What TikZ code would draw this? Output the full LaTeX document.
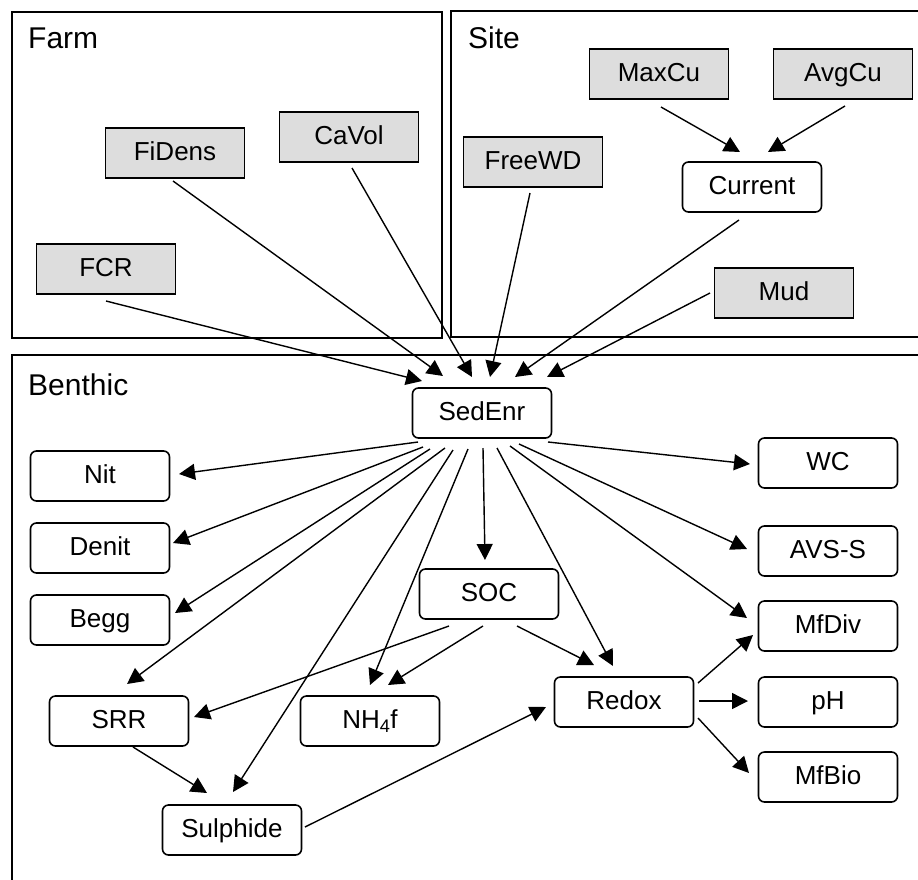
\documentclass[tikz,border=0pt]{standalone}
\usepackage{fontspec}
\setmainfont{Liberation Sans}
\usetikzlibrary{arrows.meta,calc}
\definecolor{boxgray}{RGB}{221,221,221}
\begin{document}
\begin{tikzpicture}[x=1pt,y=-1pt,
  every node/.style={font=\fontsize{26}{30}\selectfont, inner sep=0pt},
  inbox/.style={draw, line width=1.6pt, fill=boxgray, minimum width=139pt, minimum height=50pt, text height=15pt, text depth=0pt},
  varbox/.style={draw, line width=1.6pt, rounded corners=6pt, fill=white, minimum width=139pt, minimum height=50pt, text height=15pt, text depth=0pt},
  grouplabel/.style={font=\fontsize{30}{34}\selectfont, anchor=base west},
  container/.style={line width=1.8pt},
  arr/.style={line width=1.4pt, -{Triangle[length=16pt,width=16pt]}}]
\useasboundingbox (0,0) rectangle (918,879);
% containers
\draw[container] (12,12) rectangle (442,338);
\draw[container] (930,11) -- (451,11) -- (451,337) -- (930,337);
\draw[container] (930,355) -- (12,355) -- (12,890);
\node[grouplabel] (farmlbl) at (28,48) {Farm};
\node[grouplabel] (sitelbl) at (468,48) {Site};
\node[grouplabel] (benlbl) at (28,395) {Benthic};
% input nodes
\node[inbox] (FiDens) at (175,153) {FiDens};
\node[inbox] (CaVol) at (349,137) {CaVol};
\node[inbox] (FCR) at (106,269) {FCR};
\node[inbox] (MaxCu) at (659,74) {MaxCu};
\node[inbox] (AvgCu) at (843,74) {AvgCu};
\node[inbox] (FreeWD) at (533,162) {FreeWD};
\node[inbox] (Mud) at (784,293) {Mud};
% variable nodes
\node[varbox] (Current) at (752,187) {Current};
\node[varbox] (SedEnr) at (482,413) {SedEnr};
\node[varbox] (Nit) at (100,476) {Nit};
\node[varbox] (Denit) at (100,548) {Denit};
\node[varbox] (Begg) at (100,620) {Begg};
\node[varbox] (SOC) at (489,594) {SOC};
\node[varbox] (WC) at (828,463) {WC};
\node[varbox] (AVSS) at (828,551) {AVS-S};
\node[varbox] (MfDiv) at (828,626) {MfDiv};
\node[varbox] (pH) at (828,702) {pH};
\node[varbox] (MfBio) at (828,777) {MfBio};
\node[varbox] (Redox) at (624,702) {Redox};
\node[varbox] (SRR) at (119,721) {SRR};
\node[varbox] (NH4f) at (370,721) {NH\textsubscript{4}f};
\node[varbox] (Sulphide) at (232,830) {Sulphide};
% connectors into SedEnr
\draw[arr] ($(FCR)+(0,32)$) -- ($(SedEnr)+(-60,-32)$);
\draw[arr] ($(FiDens)+(-2,28)$) -- ($(SedEnr)+(-39,-37)$);
\draw[arr] ($(CaVol)+(3,31)$) -- ($(SedEnr)+(-10,-36)$);
\draw[arr] ($(FreeWD)+(-3,31)$) -- ($(SedEnr)+(8,-36)$);
\draw[arr] ($(Current)+(-13,33)$) -- ($(SedEnr)+(33,-36)$);
\draw[arr] ($(Mud)+(-74,0)$) -- ($(SedEnr)+(65,-36)$);
% into Current
\draw[arr] ($(MaxCu)+(2,33)$) -- ($(Current)+(-12,-35)$);
\draw[arr] ($(AvgCu)+(2,32)$) -- ($(Current)+(16,-35)$);
% out of SedEnr
\draw[arr] ($(SedEnr)+(-64,29)$) -- ($(Nit)+(79,-2)$);
\draw[arr] ($(SedEnr)+(-59,34)$) -- ($(Denit)+(73,-5)$);
\draw[arr] ($(SedEnr)+(-52,36)$) -- ($(Begg)+(75,-7)$);
\draw[arr] ($(SedEnr)+(-37,35)$) -- ($(SRR)+(8,-37)$);
\draw[arr] ($(SedEnr)+(-29,37)$) -- ($(Sulphide)+(1,-38)$);
\draw[arr] ($(SedEnr)+(-14,36)$) -- ($(NH4f)+(0,-36)$);
\draw[arr] ($(SedEnr)+(1,35)$) -- ($(SOC)+(-4,-34)$);
\draw[arr] ($(SedEnr)+(15,35)$) -- ($(Redox)+(-11,-36)$);
\draw[arr] ($(SedEnr)+(28,33)$) -- ($(MfDiv)+(-81,-8)$);
\draw[arr] ($(SedEnr)+(37,31)$) -- ($(AVSS)+(-81,-2)$);
\draw[arr] ($(SedEnr)+(66,29)$) -- ($(WC)+(-78,1)$);
% out of SOC
\draw[arr] ($(SOC)+(-40,32)$) -- ($(SRR)+(75,-4)$);
\draw[arr] ($(SOC)+(-6,32)$) -- ($(NH4f)+(18,-36)$);
\draw[arr] ($(SOC)+(28,32)$) -- ($(Redox)+(-30,-37)$);
% others
\draw[arr] ($(SRR)+(14,26)$) -- ($(Sulphide)+(-25,-37)$);
\draw[arr] ($(Sulphide)+(73,-3)$) -- ($(Redox)+(-78,5)$);
\draw[arr] ($(Redox)+(74,-19)$) -- ($(MfDiv)+(-75,9)$);
\draw[arr] ($(Redox)+(75,-1)$) -- ($(pH)+(-80,-1)$);
\draw[arr] ($(Redox)+(74,16)$) -- ($(MfBio)+(-79,-4)$);
\end{tikzpicture}
\end{document}
